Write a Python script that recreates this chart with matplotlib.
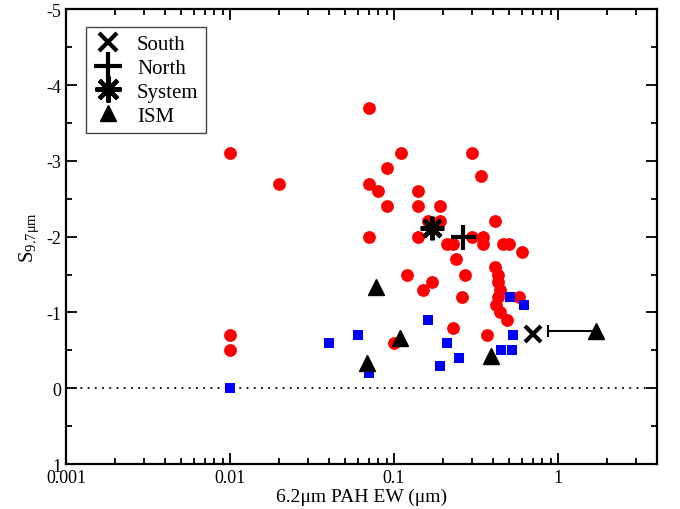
import matplotlib
matplotlib.use("Agg")
import matplotlib.pyplot as plt
from matplotlib.ticker import MultipleLocator, LogLocator, FixedFormatter, FixedLocator, NullFormatter

plt.rcParams["font.family"] = ["Liberation Serif", "DejaVu Serif"]
plt.rcParams["mathtext.fontset"] = "custom"
plt.rcParams["mathtext.rm"] = "Liberation Serif"
plt.rcParams["mathtext.it"] = "Liberation Serif"

# galaxies (red circles)
red_x = [0.01, 0.02, 0.07, 0.11, 0.09, 0.07, 0.08, 0.14, 0.09, 0.14, 0.19, 0.07,
         0.14, 0.16, 0.19, 0.30, 0.34, 0.41, 0.30, 0.35, 0.21, 0.23, 0.35, 0.46,
         0.50, 0.60, 0.24, 0.12, 0.17, 0.15, 0.27, 0.26, 0.41, 0.43, 0.43, 0.44,
         0.43, 0.42, 0.44, 0.49, 0.58, 0.23, 0.37, 0.10, 0.01, 0.01]
red_y = [-3.1, -2.7, -3.7, -3.1, -2.9, -2.7, -2.6, -2.6, -2.4, -2.4, -2.4, -2.0,
         -2.0, -2.2, -2.2, -3.1, -2.8, -2.2, -2.0, -2.0, -1.9, -1.9, -1.9, -1.9,
         -1.9, -1.8, -1.7, -1.5, -1.4, -1.3, -1.5, -1.2, -1.6, -1.5, -1.4, -1.3,
         -1.2, -1.1, -1.0, -0.9, -1.2, -0.8, -0.7, -0.6, -0.7, -0.5]

# blue squares
blue_x = [0.01, 0.04, 0.06, 0.07, 0.16, 0.21, 0.25, 0.19, 0.45, 0.52, 0.53, 0.51, 0.62]
blue_y = [0.0, -0.6, -0.7, -0.2, -0.9, -0.6, -0.4, -0.3, -0.5, -0.5, -0.7, -1.2, -1.1]

# ISM triangles
ism_x = [0.078, 0.108, 0.068, 0.39, 1.70]
ism_y = [-1.33, -0.67, -0.33, -0.43, -0.75]

south = (0.706, -0.72)
north = (0.265, -2.0)
system = (0.17, -2.12)
ism_err_low = 0.835  # left error bar on the rightmost ISM point

fig = plt.figure(figsize=(6.8, 5.1), dpi=100)
ax = fig.add_axes([0.097, 0.088, 0.869, 0.892])

ax.axhline(0, color="black", ls=(0, (1, 3)), lw=1.3, zorder=1)

ax.scatter(red_x, red_y, s=85, c="red", marker="o", linewidths=0, zorder=2)
ax.scatter(blue_x, blue_y, s=55, c="blue", marker="s", linewidths=0, zorder=3)

ax.errorbar([ism_x[-1]], [ism_y[-1]], xerr=[[ism_err_low], [0]], fmt="none",
            ecolor="black", elinewidth=1.5, capsize=4, capthick=1.5, zorder=4)
ax.plot(ism_x, ism_y, ls="none", marker="^", ms=11, color="black", zorder=5,
        label="ISM")
ax.plot([south[0]], [south[1]], ls="none", marker="x", ms=12, mew=3,
        color="black", zorder=6, label="South")
ax.plot([north[0]], [north[1]], ls="none", marker="+", ms=18, mew=3,
        color="black", zorder=6, label="North")
ax.plot([system[0]], [system[1]], ls="none", marker=(8, 2, 0), ms=17, mew=3,
        color="black", zorder=6, label="System")

ax.set_xscale("log")
ax.set_xlim(0.001, 4)
ax.set_ylim(1, -5)

ax.xaxis.set_major_locator(FixedLocator([0.001, 0.01, 0.1, 1]))
ax.xaxis.set_major_formatter(FixedFormatter(["0.001", "0.01", "0.1", "1"]))
ax.xaxis.set_minor_locator(LogLocator(base=10, subs=range(2, 10), numticks=20))
ax.xaxis.set_minor_formatter(NullFormatter())
ax.yaxis.set_major_locator(MultipleLocator(1))
ax.yaxis.set_minor_locator(MultipleLocator(0.5))
ax.yaxis.set_major_formatter(plt.FuncFormatter(lambda v, p: "%d" % round(v)))

ax.tick_params(which="both", direction="in", top=True, right=True, width=1.3,
               labelsize=13)
ax.tick_params(which="major", length=8)
ax.tick_params(which="minor", length=4)
for sp in ax.spines.values():
    sp.set_linewidth(1.6)

ax.set_xlabel("6.2\u03bcm PAH EW (\u03bcm)", fontsize=14, labelpad=1)
ax.set_ylabel("S$_{9.7\u03bc\\mathrm{m}}$", fontsize=15, labelpad=4)

handles, labels = ax.get_legend_handles_labels()
order = [labels.index(n) for n in ["South", "North", "System", "ISM"]]
leg = ax.legend([handles[i] for i in order], [labels[i] for i in order],
                loc="upper left", bbox_to_anchor=(0.034, 0.96), borderaxespad=0,
                fontsize=15, fancybox=False, framealpha=1, edgecolor="#444444",
                handletextpad=0.7, labelspacing=0.2, borderpad=0.35,
                handlelength=1.4, markerscale=1.1)
leg.get_frame().set_linewidth(1.0)

fig.savefig("out.png", dpi=100)
